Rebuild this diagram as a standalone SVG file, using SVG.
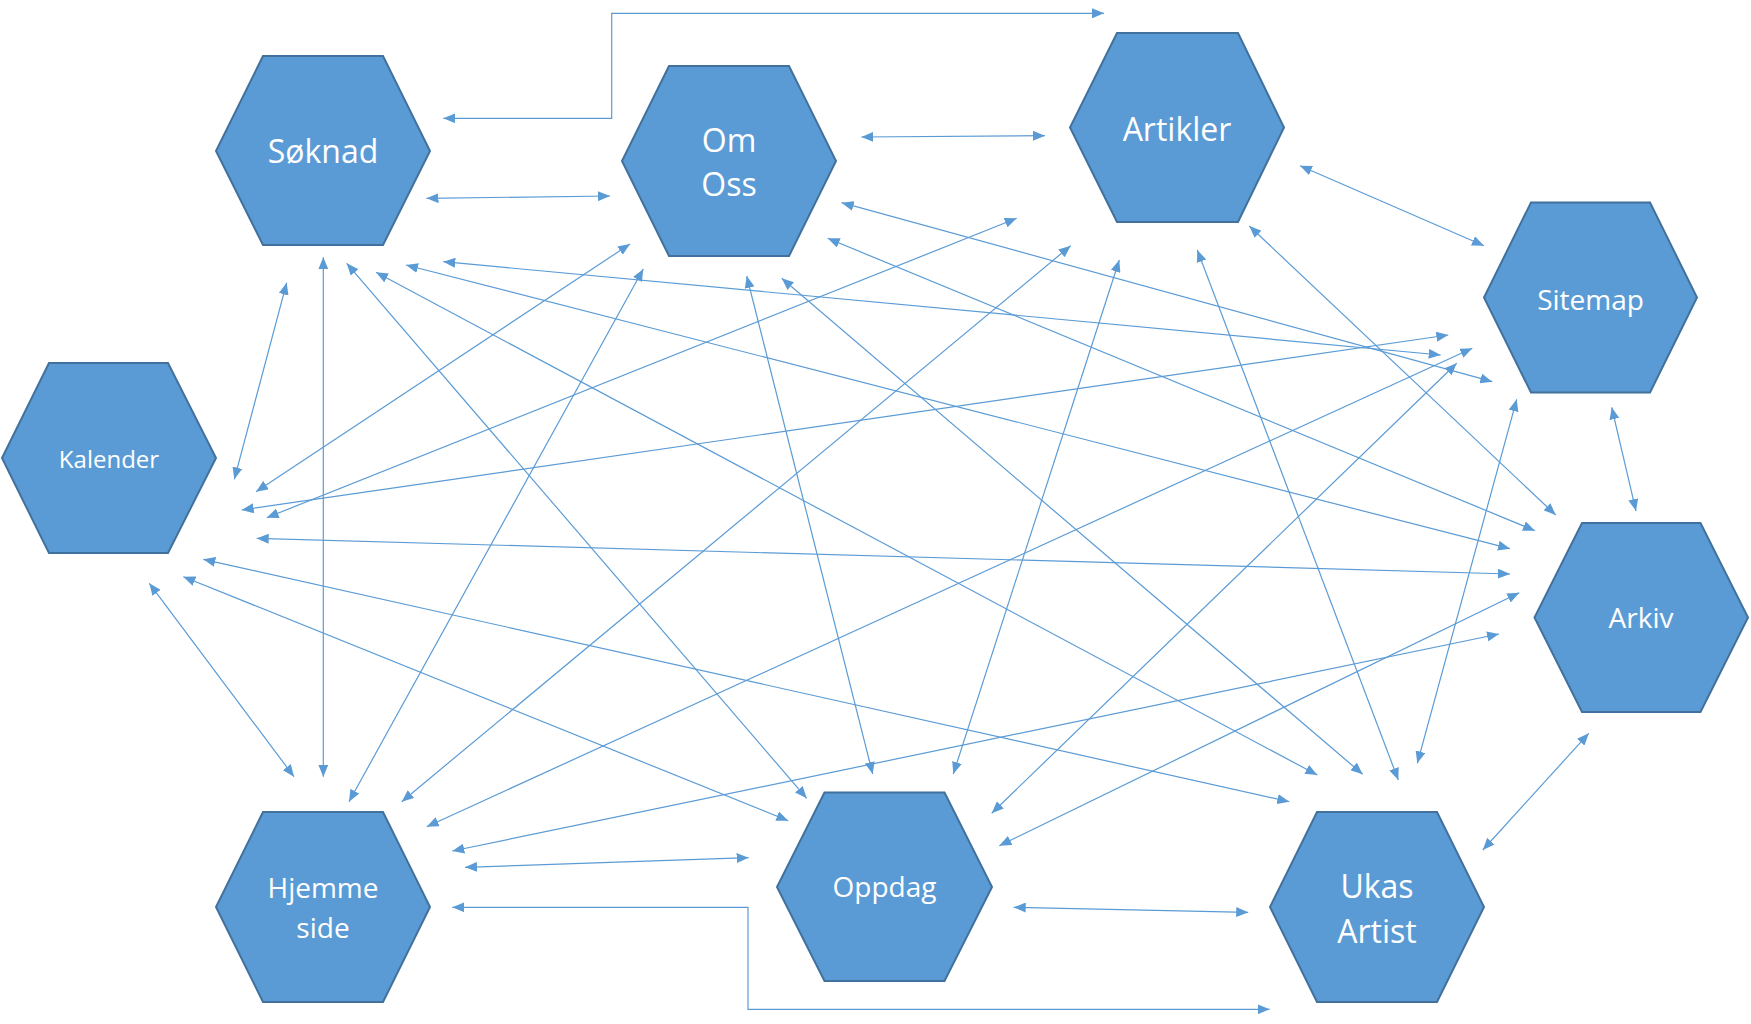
<svg xmlns="http://www.w3.org/2000/svg" width="1751" height="1024" viewBox="0 0 1751 1024">
<style>
.n polygon{fill:#5B9BD5;stroke:#41719C;stroke-width:2}
.n text{fill:#fff;font-family:"Open Sans","Liberation Sans",sans-serif;text-anchor:middle}
.big{font-size:32px}.mid{font-size:28px}.sml{font-size:24px}
#connectors line,#connectors path{stroke:#5B9BD5;stroke-width:1.2;fill:none;marker-start:url(#a);marker-end:url(#a)}
</style>
<defs>
<marker id="a" viewBox="0 0 12 10" refX="12" refY="5" markerWidth="12" markerHeight="10" markerUnits="userSpaceOnUse" orient="auto-start-reverse"><path d="M0,0 L12,5 L0,10 z" fill="#5B9BD5"/></marker>
</defs>
<rect width="1751" height="1024" fill="#fff"/>
<g id="connectors">
<path d="M443.3,118.3 H611.7 V13.3 H1104"/>
<line x1="426.5" y1="198.3" x2="610" y2="196"/>
<line x1="861.4" y1="137" x2="1045" y2="135.7"/>
<line x1="1300" y1="165.7" x2="1484" y2="245.7"/>
<line x1="1611.7" y1="407.3" x2="1636" y2="511"/>
<line x1="1588.8" y1="733.3" x2="1482.8" y2="850"/>
<line x1="1013.7" y1="907.3" x2="1248.2" y2="912.3"/>
<path d="M452.3,907.3 H748 V1009.3 H1269.6"/>
<line x1="465" y1="867.3" x2="748.6" y2="857.7"/>
<line x1="323.3" y1="257.3" x2="323.3" y2="776.7"/>
<line x1="286.7" y1="282.7" x2="234.3" y2="479.3"/>
<line x1="149.3" y1="583.3" x2="294" y2="776.7"/>
<line x1="256" y1="491.7" x2="630" y2="244"/>
<line x1="266.7" y1="517.7" x2="1016.7" y2="218.3"/>
<line x1="241.7" y1="510" x2="1448.3" y2="335"/>
<line x1="256.7" y1="538.3" x2="1510" y2="574"/>
<line x1="203.3" y1="559.3" x2="1289.3" y2="801.7"/>
<line x1="183.3" y1="576.7" x2="788.3" y2="820.7"/>
<line x1="346.7" y1="263.3" x2="806.7" y2="798.3"/>
<line x1="376" y1="272.3" x2="1317.3" y2="775"/>
<line x1="406" y1="265" x2="1510" y2="548.7"/>
<line x1="443.3" y1="261.7" x2="1440.7" y2="355"/>
<line x1="643.3" y1="269" x2="349" y2="801.7"/>
<line x1="746.7" y1="276" x2="872.7" y2="774"/>
<line x1="781.7" y1="278.3" x2="1362.7" y2="774.3"/>
<line x1="827.7" y1="238.3" x2="1535" y2="530.7"/>
<line x1="841.7" y1="202.7" x2="1492.3" y2="381.7"/>
<line x1="1070.7" y1="245.7" x2="401.7" y2="801.7"/>
<line x1="1119.3" y1="260" x2="953.3" y2="774"/>
<line x1="1197.3" y1="250" x2="1398.3" y2="780"/>
<line x1="1249.3" y1="226" x2="1555.7" y2="515"/>
<line x1="1472.3" y1="348.3" x2="426.7" y2="826.7"/>
<line x1="1456.7" y1="363.3" x2="991.7" y2="813.3"/>
<line x1="1516.7" y1="399.3" x2="1417.3" y2="763.3"/>
<line x1="1519.3" y1="592.7" x2="999.3" y2="845.7"/>
<line x1="1499" y1="634" x2="452.3" y2="851"/>
</g>
<g id="soknad" class="n"><polygon points="263,56 383,56 430,151 383,245 263,245 216,151"/><text class="big" x="323" y="163">Søknad</text></g>
<g id="omoss" class="n"><polygon points="669,66 789,66 836,161 789,256 669,256 622,161"/><text class="big" x="729" y="151.7">Om</text><text class="big" x="729" y="196">Oss</text></g>
<g id="artikler" class="n"><polygon points="1117,33 1238,33 1284,127.5 1238,222 1117,222 1070,127.5"/><text class="big" x="1177" y="140.7">Artikler</text></g>
<g id="sitemap" class="n"><polygon points="1531,202.5 1650,202.5 1697,297.5 1650,392.5 1531,392.5 1484,297.5"/><text class="mid" x="1590.5" y="310">Sitemap</text></g>
<g id="kalender" class="n"><polygon points="49,363 168,363 216,458 168,553 49,553 2,458"/><text class="sml" x="109" y="467.7">Kalender</text></g>
<g id="arkiv" class="n"><polygon points="1582,523 1700.5,523 1748,617.5 1700.5,712 1582,712 1534.5,617.5"/><text class="mid" x="1641" y="628.3">Arkiv</text></g>
<g id="hjemmeside" class="n"><polygon points="263,812 383,812 430,907 383,1002 263,1002 216,907"/><text class="mid" x="323" y="898.3">Hjemme</text><text class="mid" x="323" y="938.3">side</text></g>
<g id="oppdag" class="n"><polygon points="824.5,792.5 944.5,792.5 992,887 944.5,981 824.5,981 777,887"/><text class="mid" x="884.5" y="896.7">Oppdag</text></g>
<g id="ukasartist" class="n"><polygon points="1317,812 1437,812 1484,907 1437,1002 1317,1002 1270,907"/><text class="big" x="1377" y="897.7">Ukas</text><text class="big" x="1377" y="942.7">Artist</text></g>
</svg>
